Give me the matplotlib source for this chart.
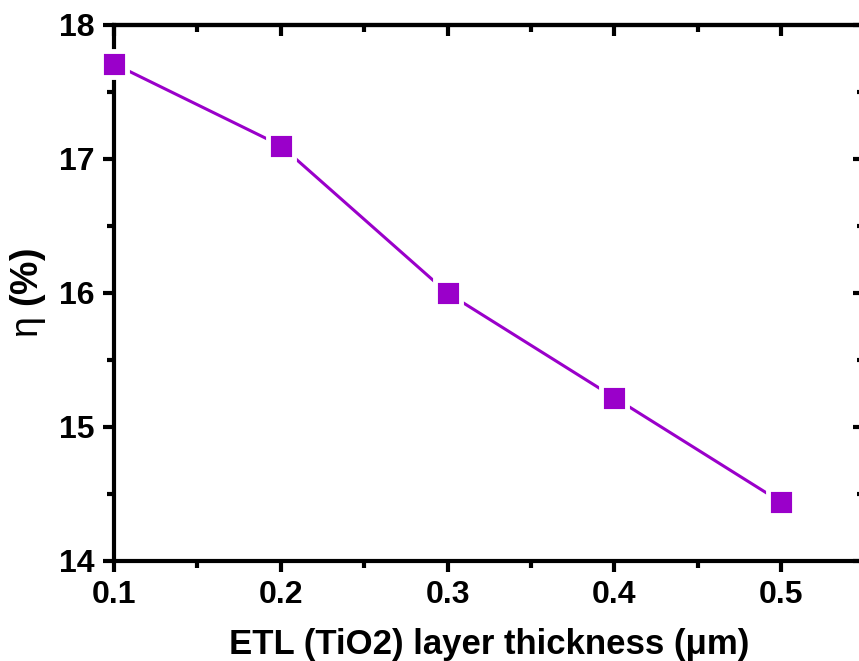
import matplotlib.pyplot as plt
from matplotlib.ticker import MultipleLocator

# ETL thickness sweep and resulting efficiency
thickness = [0.1, 0.2, 0.3, 0.4, 0.5]
efficiency = [17.71, 17.10, 16.00, 15.22, 14.44]

plt.rcParams['font.family'] = ['Liberation Sans', 'DejaVu Sans']
plt.rcParams['font.weight'] = 'bold'
plt.rcParams['mathtext.fontset'] = 'custom'
plt.rcParams['mathtext.rm'] = 'Liberation Sans:weight=normal'

fig = plt.figure(figsize=(8.59, 6.61), dpi=100)
ax = fig.add_axes([0.1327, 0.1513, 0.8736, 0.8109])

color = '#9A00CA'
ax.plot(thickness, efficiency, color=color, lw=2.2, marker='s', ms=19,
        mfc=color, mec='white', mew=3.5, clip_on=False, zorder=3)

ax.set_xlim(0.1, 0.55)
ax.set_ylim(14, 18)
ax.xaxis.set_major_locator(MultipleLocator(0.1))
ax.xaxis.set_minor_locator(MultipleLocator(0.05))
ax.yaxis.set_major_locator(MultipleLocator(1))
ax.yaxis.set_minor_locator(MultipleLocator(0.5))
ax.xaxis.set_major_formatter(lambda v, p: f'{v:.1f}')

for s in ax.spines.values():
    s.set_linewidth(3)

# outward ticks on left/bottom, inward on top/right
ax.tick_params(which='both', bottom=True, left=True, top=False, right=False,
               direction='out', width=3, labelsize=23, pad=6)
ax.tick_params(which='major', length=8)
ax.tick_params(which='minor', length=5)

sec_x = ax.secondary_xaxis('top')
sec_x.xaxis.set_major_locator(MultipleLocator(0.1))
sec_x.xaxis.set_minor_locator(MultipleLocator(0.05))
sec_x.tick_params(which='both', direction='in', width=3, labeltop=False)
sec_x.tick_params(which='major', length=8)
sec_x.tick_params(which='minor', length=5)
sec_x.spines['top'].set_linewidth(3)

sec_y = ax.secondary_yaxis('right')
sec_y.yaxis.set_major_locator(MultipleLocator(1))
sec_y.yaxis.set_minor_locator(MultipleLocator(0.5))
sec_y.tick_params(which='both', direction='in', width=3, labelright=False)
sec_y.tick_params(which='major', length=8)
sec_y.tick_params(which='minor', length=5)
sec_y.spines['right'].set_linewidth(3)

for lbl in ax.get_xticklabels() + ax.get_yticklabels():
    lbl.set_fontweight('bold')

ax.set_xlabel('ETL (TiO2) layer thickness (μm)', fontsize=25, fontweight='bold', labelpad=13)
ax.set_ylabel(r'$\mathrm{\eta}$ (%)', fontsize=27, fontweight='bold', labelpad=8)

fig.savefig('out.png', dpi=100)
